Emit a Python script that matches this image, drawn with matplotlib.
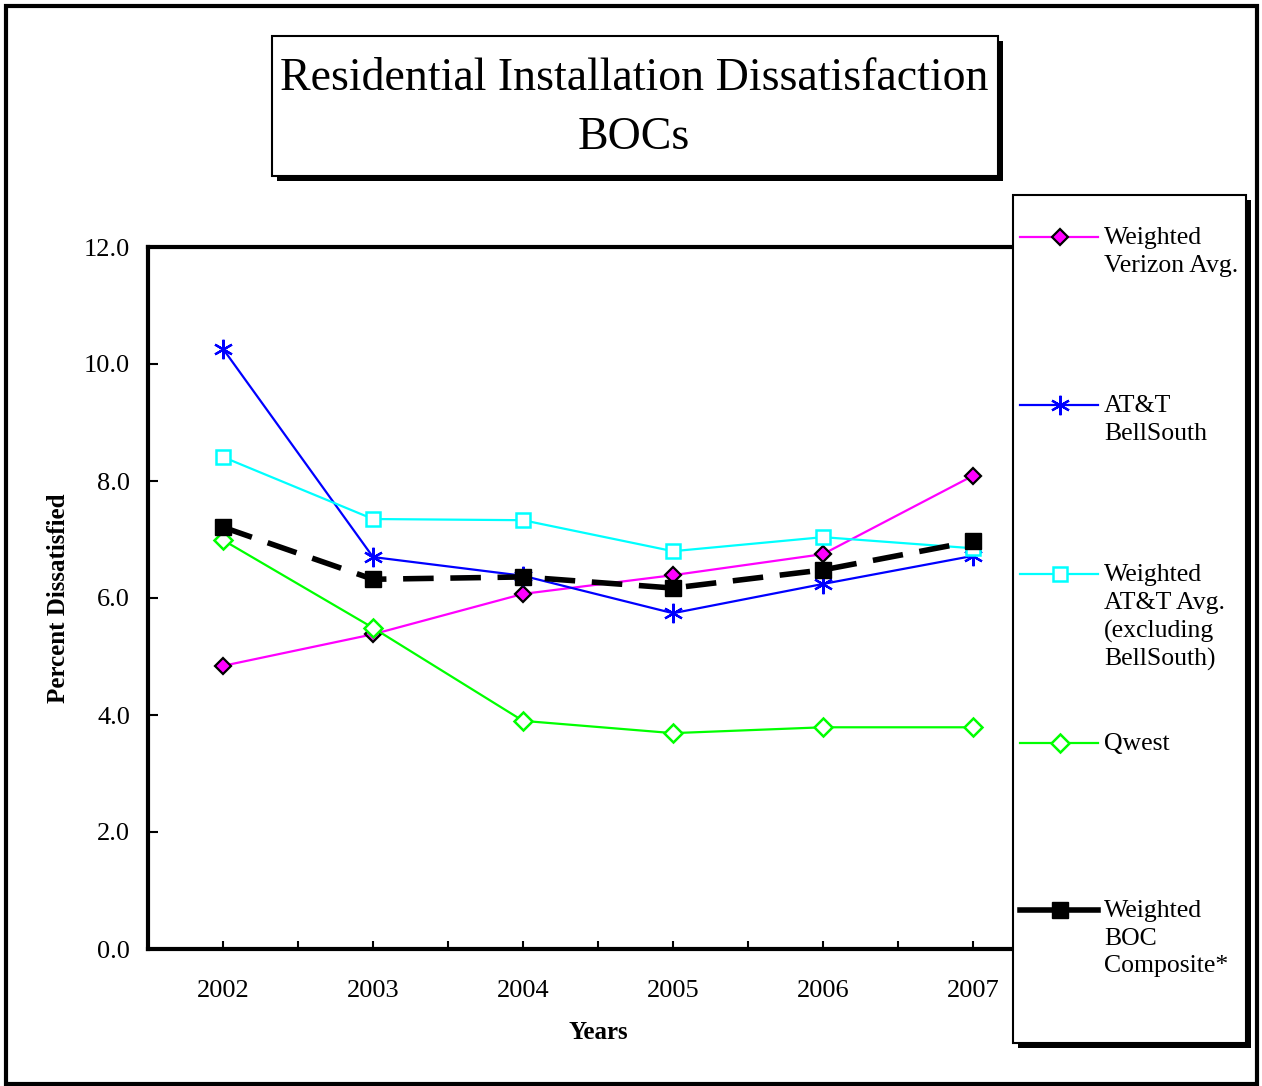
import matplotlib
matplotlib.use("Agg")
import matplotlib.pyplot as plt
from matplotlib.patches import Rectangle
from matplotlib.lines import Line2D

plt.rcParams['font.family'] = ['Liberation Serif', 'DejaVu Serif']

# ---- data ----
years = [2002, 2003, 2004, 2005, 2006, 2007]
year_labels = ["2002", "2003", "2004", "2005", "2006", "2007"]
verizon = [4.84, 5.38, 6.07, 6.39, 6.75, 8.09]
att_bellsouth = [10.26, 6.70, 6.38, 5.74, 6.24, 6.72]
att_weighted = [8.41, 7.35, 7.33, 6.80, 7.04, 6.85]
qwest = [6.99, 5.49, 3.90, 3.69, 3.79, 3.79]
composite = [7.21, 6.32, 6.36, 6.17, 6.48, 6.97]
yticks = [0, 2, 4, 6, 8, 10, 12]
ytick_labels = ["0.0", "2.0", "4.0", "6.0", "8.0", "10.0", "12.0"]

series_names = ["Weighted\nVerizon Avg.", "AT&T\nBellSouth",
                "Weighted\nAT&T Avg.\n(excluding\nBellSouth)", "Qwest",
                "Weighted\nBOC\nComposite*"]
title_text = "Residential Installation Dissatisfaction\nBOCs"

W, H = 1262, 1086
fig = plt.figure(figsize=(W / 100, H / 100), dpi=100)

def fx(px):
    return px / W

def fy(py):
    return 1 - py / H

ax = fig.add_axes([fx(148), fy(949), fx(1048) - fx(148), fy(247) - fy(949)])

styles = [
    dict(color='#FF00FF', lw=1.6, marker='D', ms=8, mfc='#FF00FF', mec='black', mew=1.6),
    dict(color='#0000FF', lw=1.6, marker=(6, 2, 0), ms=14, mec='#0000FF', mew=1.6),
    dict(color='#00FFFF', lw=1.6, marker='s', ms=10, mfc='white', mec='#00FFFF', mew=1.8),
    dict(color='#00FF00', lw=1.6, marker='D', ms=9, mfc='white', mec='#00FF00', mew=1.8),
    dict(color='black', lw=4, marker='s', ms=11, mfc='black', mec='black', mew=1),
]
data = [verizon, att_bellsouth, att_weighted, qwest, composite]

for i, (vals, st) in enumerate(zip(data, styles)):
    kw = dict(st)
    if i == 4:
        kw['dashes'] = (5.5, 3)
    ax.plot(years, vals, zorder=3, **kw)

ax.set_xlim(2001.5, 2007.5)
ax.set_ylim(0, 12)
ax.set_xticks(years)
ax.set_xticklabels(year_labels, fontsize=19)
ax.set_xticks([2002.5, 2003.5, 2004.5, 2005.5, 2006.5], minor=True)
ax.set_yticks(yticks)
ax.set_yticklabels(ytick_labels, fontsize=19)
ax.tick_params(axis='x', which='both', direction='in', length=6, width=1.5, pad=22)
ax.tick_params(axis='y', which='both', direction='in', length=7, width=1.5, pad=13)
for s in ax.spines.values():
    s.set_linewidth(3)
ax.spines['right'].set_visible(False)
ax.set_xlabel("Years", fontsize=18, fontweight='bold', labelpad=14)
ax.set_ylabel("Percent Dissatisfied", fontsize=18, fontweight='bold', labelpad=10)

# outer border
fig.add_artist(Rectangle((fx(6), fy(1084)), fx(1257) - fx(6), fy(6) - fy(1084),
                         transform=fig.transFigure, fill=False, lw=3, ec='black', zorder=0))

# boxes with shadow
def shadow_box(x0, y0, x1, y1, off=5, z=5):
    fig.add_artist(Rectangle((fx(x0 + off), fy(y1 + off)), fx(x1) - fx(x0), fy(y0) - fy(y1),
                             transform=fig.transFigure, fc='black', ec='black', lw=0, zorder=z))
    fig.add_artist(Rectangle((fx(x0), fy(y1)), fx(x1) - fx(x0), fy(y0) - fy(y1),
                             transform=fig.transFigure, fc='white', ec='black', lw=1.5, zorder=z + 0.1))

shadow_box(272, 36, 998, 176, off=5)
fig.text(fx(634), fy(108), title_text, ha='center', va='center', fontsize=33,
         linespacing=1.5, zorder=10)

# legend box
shadow_box(1013, 195, 1246, 1043, off=5, z=5)
entry_y = [237, 405, 574, 743, 910]
for name, st, ey in zip(series_names, styles, entry_y):
    kw = dict(st)
    for k in ('marker', 'ms', 'mew', 'mfc', 'mec'):
        kw.pop(k, None)
    fig.add_artist(Line2D([fx(1020), fx(1098)], [fy(ey), fy(ey)], transform=fig.transFigure,
                          zorder=7, **kw))
    mk = dict(st)
    mk.pop('lw')
    fig.add_artist(Line2D([fx(1060)], [fy(ey)], transform=fig.transFigure, ls='none',
                          zorder=8, **mk))
    fig.text(fx(1104), fy(ey - 10), name, ha='left', va='top', fontsize=18.5,
             linespacing=1.33, zorder=9)

fig.savefig("out.png", dpi=100)
